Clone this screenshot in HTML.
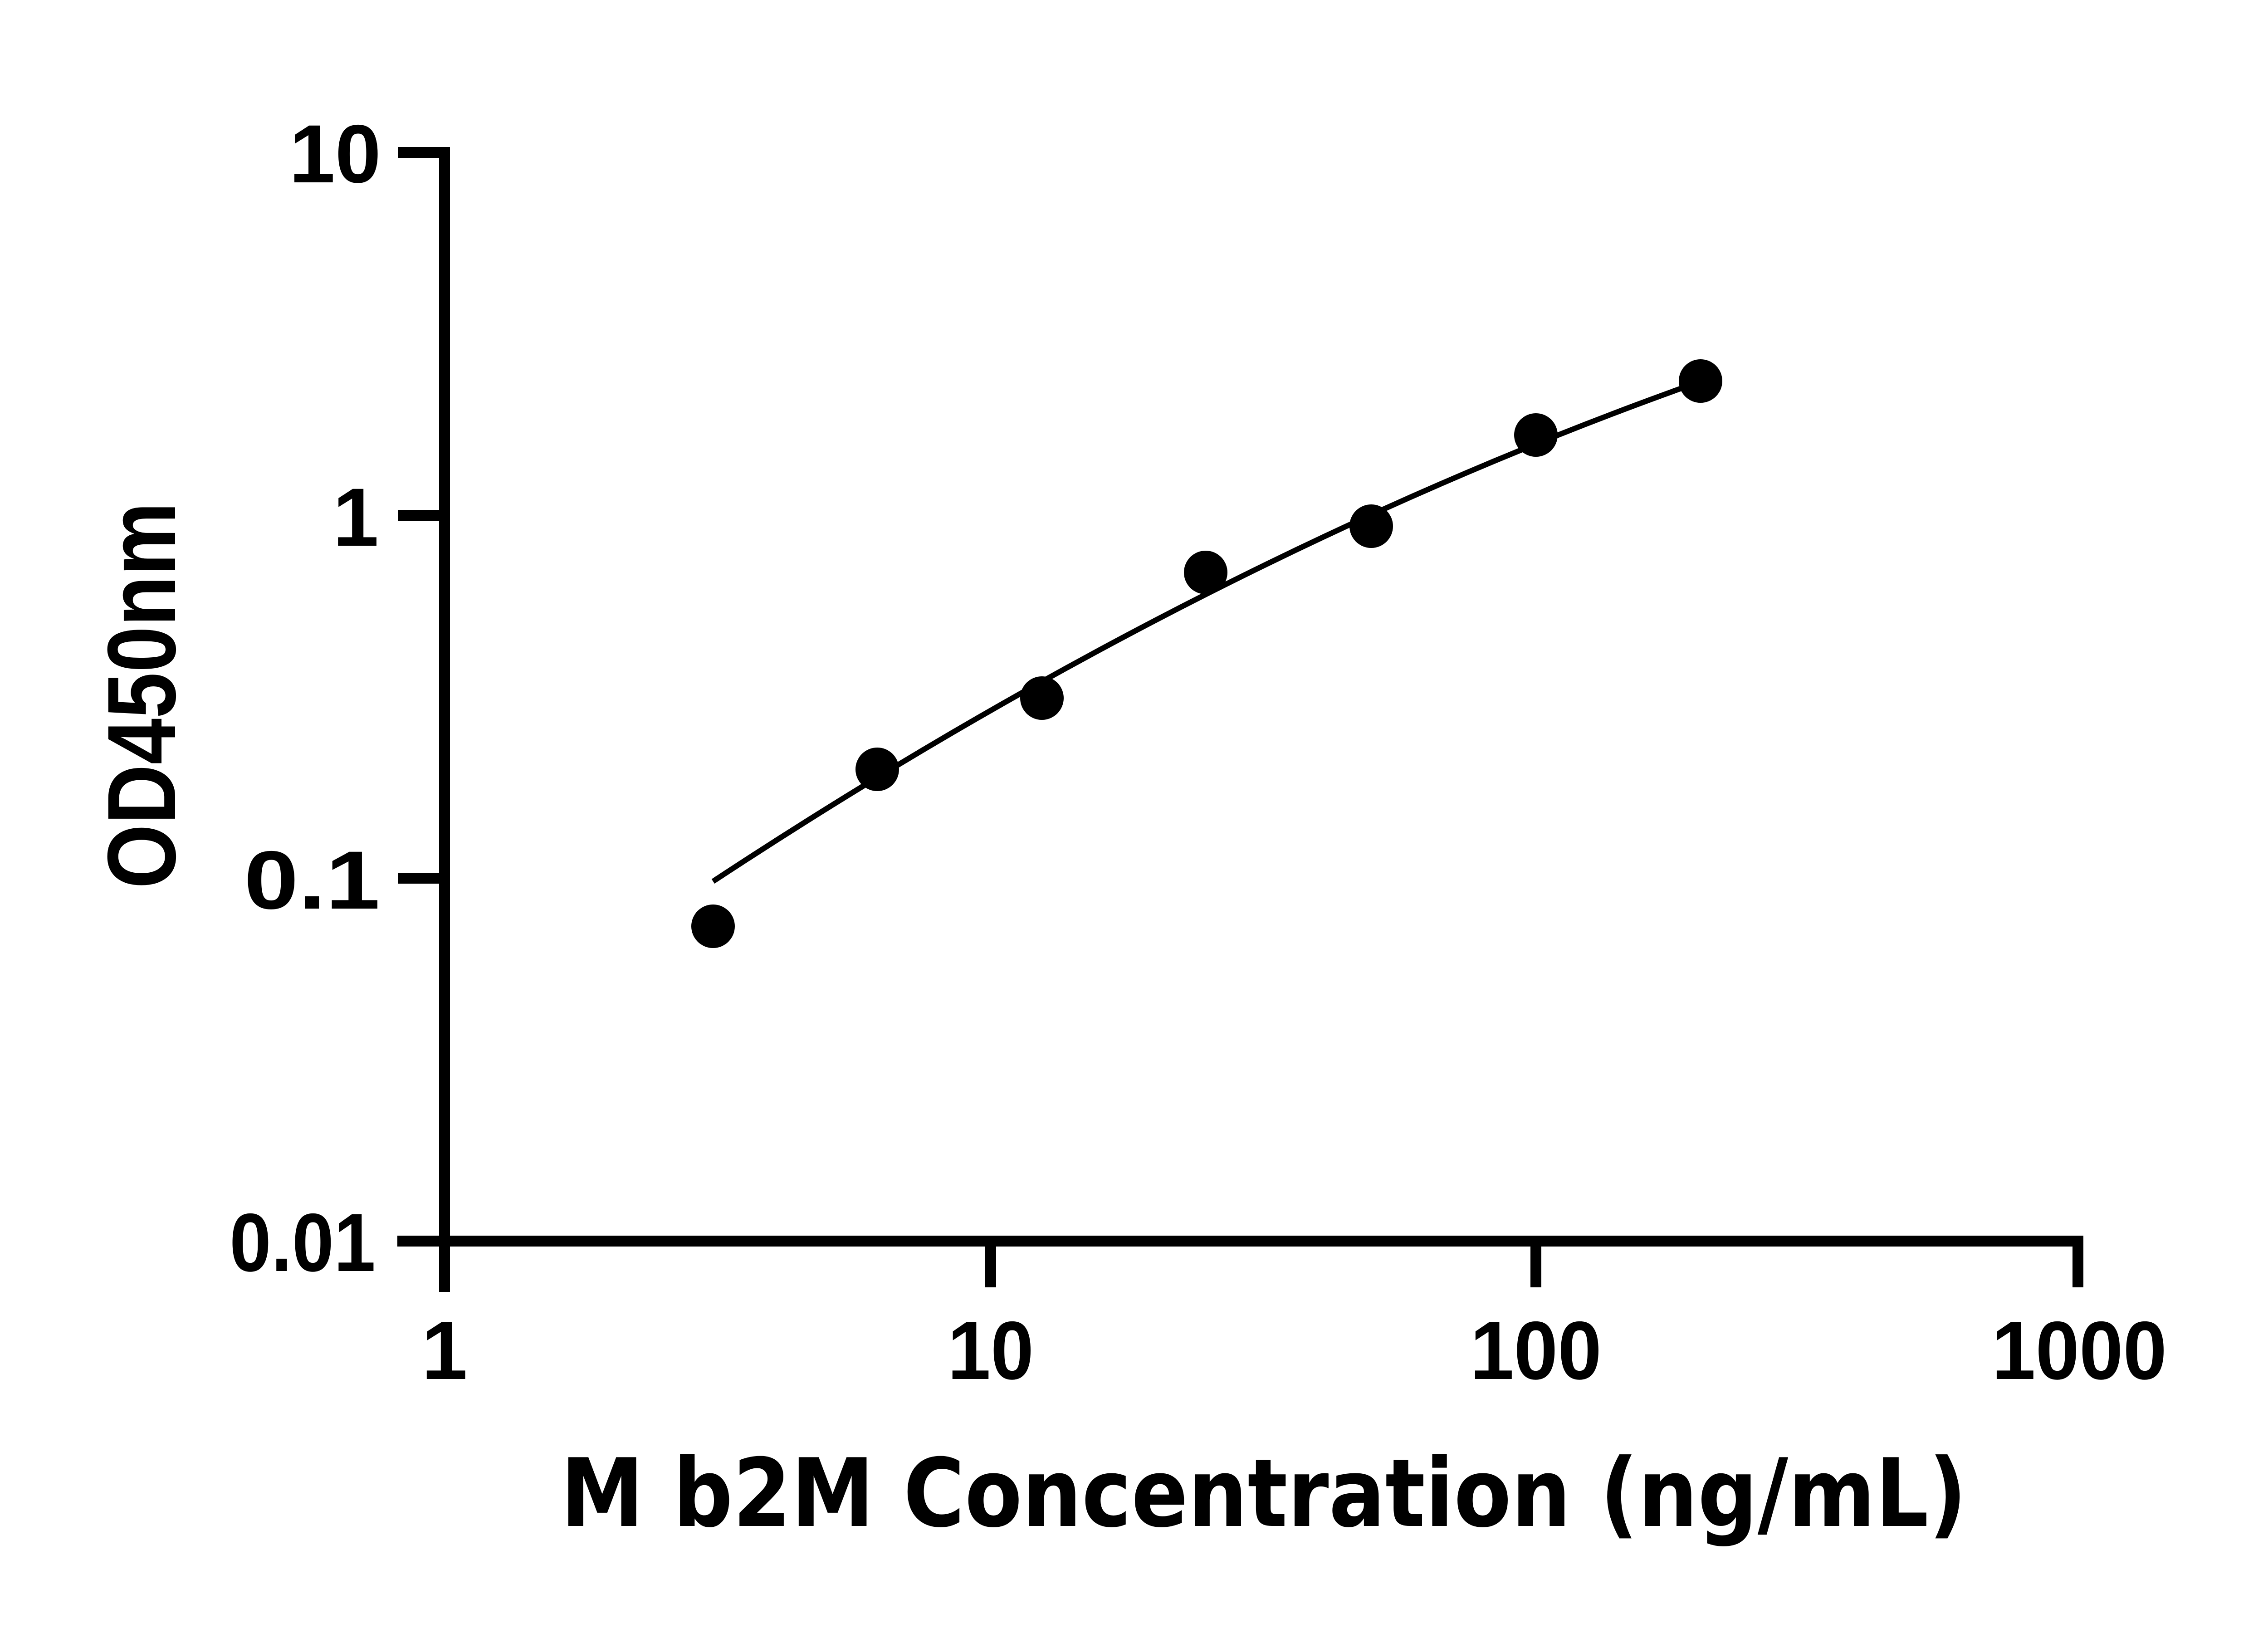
<!DOCTYPE html>
<html><head><meta charset="utf-8"><style>html,body{margin:0;padding:0;background:#fff}svg{display:block}</style></head>
<body>
<svg width="5130" height="3600" viewBox="0 0 5130 3600" xmlns="http://www.w3.org/2000/svg">
<rect width="5130" height="3600" fill="#fff"/>
<g stroke="#000" stroke-width="24" fill="none" stroke-linecap="butt">
<path d="M980 324 V2848"/>
<path d="M876 2736 H4593"/>
<path d="M878 336 H980 M878 1136 H980 M878 1936 H980"/>
<path d="M2184 2736 V2838 M3386 2736 V2838 M4581 2736 V2838"/>
</g>
<g font-family="Liberation Sans, Arial, sans-serif" font-weight="bold" font-size="182" fill="#000" text-anchor="end">
<text x="840" y="402">10</text>
<text x="835" y="1203">1</text>
<text x="838" y="2003" textLength="300" lengthAdjust="spacingAndGlyphs">0.1</text>
<text x="828" y="2802" textLength="322" lengthAdjust="spacingAndGlyphs">0.01</text>
</g>
<g font-family="Liberation Sans, Arial, sans-serif" font-weight="bold" font-size="182" fill="#000" text-anchor="middle">
<text x="980" y="3040">1</text>
<text x="2184" y="3040" textLength="190" lengthAdjust="spacingAndGlyphs">10</text>
<text x="3386" y="3040" textLength="290" lengthAdjust="spacingAndGlyphs">100</text>
<text x="4584" y="3040" textLength="386" lengthAdjust="spacingAndGlyphs">1000</text>
</g>
<text x="2786" y="3364" font-family="DejaVu Sans, sans-serif" font-weight="bold" font-size="208" text-anchor="middle" textLength="3100" lengthAdjust="spacingAndGlyphs">M b2M Concentration (ng/mL)</text>
<text transform="translate(386,1533) rotate(-90)" font-family="Liberation Sans, Arial, sans-serif" font-weight="bold" font-size="214" text-anchor="middle" textLength="852" lengthAdjust="spacingAndGlyphs">OD450nm</text>
<path d="M1572 1943 Q2643 1238 3715 853" stroke="#000" stroke-width="12" fill="none"/>
<g fill="#000">
<circle cx="1572" cy="2042" r="48"/>
<circle cx="1934" cy="1696" r="48"/>
<circle cx="2297" cy="1539" r="48"/>
<circle cx="2658" cy="1262" r="48"/>
<circle cx="3023" cy="1160" r="48"/>
<circle cx="3386" cy="959" r="48"/>
<circle cx="3749" cy="840" r="48"/>
</g>
</svg>
</body></html>
